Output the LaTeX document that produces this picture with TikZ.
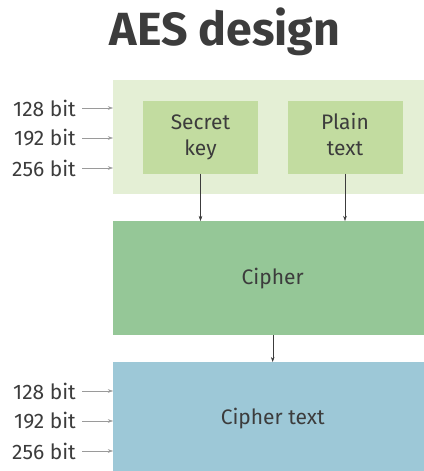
\documentclass[tikz,border=0pt]{standalone}
\usepackage{fontspec}
\setmainfont{Fira Sans}
\usetikzlibrary{positioning,arrows.meta}

\definecolor{inkgray}{HTML}{3C3C3C}
\definecolor{linegray}{HTML}{9A9A9A}
\definecolor{palegreen}{HTML}{E4EFD5}
\definecolor{leafgreen}{HTML}{C2DCA0}
\definecolor{midgreen}{HTML}{95C797}
\definecolor{skyblue}{HTML}{9DC8D7}

\begin{document}
\begin{tikzpicture}[x=1pt,y=-1pt,
        font=\fontsize{21}{25}\selectfont, text=inkgray, >={Stealth[length=5pt,width=3.5pt]}]
        \tikzstyle{band}  = [rectangle, inner sep=0pt, minimum width=319pt, anchor=north west]
        \tikzstyle{inbox} = [rectangle, text centered, fill=leafgreen, minimum width=115pt,
                             minimum height=73pt, align=center]
        \tikzstyle{bits}  = [anchor=east, inner sep=0pt]

        \useasboundingbox (0,0) rectangle (423,471);
        \fill[white] (0,0) rectangle (423,471);

        \node(title)  [anchor=base, font=\bfseries\fontsize{46.5}{50}\selectfont] at (225,45) {AES design};
        \node(input)  [band, fill=palegreen, minimum height=114pt] at (113,80) {};
        \node(key)    [inbox] at (200.5,137) {\strut Secret\\[1pt]\strut key};
        \node(plain)  [inbox] at (345,137) {\strut Plain\\[1pt]\strut text};
        \node(cipher) [band, fill=midgreen, minimum height=114pt] at (113,221) {};
        \node(ctext)  [band, fill=skyblue, minimum height=112pt] at (113,362) {};
        \node(clbl)   at (cipher.center) {Cipher};
        \node(ctlbl)  at (ctext.center) {Cipher text};

        \draw[->, inkgray] (key) -- (key |- cipher.north);
        \draw[->, inkgray] (plain) -- (plain |- cipher.north);
        \draw[->, inkgray] (cipher) -- (ctext);

        % key sizes
        \foreach \y/\n in {108/128, 138/192, 168/256} {
            \node(in\n) [bits] at (76,\y) {\n\ bit};
            \draw[->, linegray] ([xshift=6pt]in\n.east) -- (in\n -| input.west);
        }
        \foreach \y/\n in {391/128, 421/192, 451/256} {
            \node(out\n) [bits] at (76,\y) {\n\ bit};
            \draw[->, linegray] ([xshift=6pt]out\n.east) -- (out\n -| ctext.west);
        }
\end{tikzpicture}
\end{document}
